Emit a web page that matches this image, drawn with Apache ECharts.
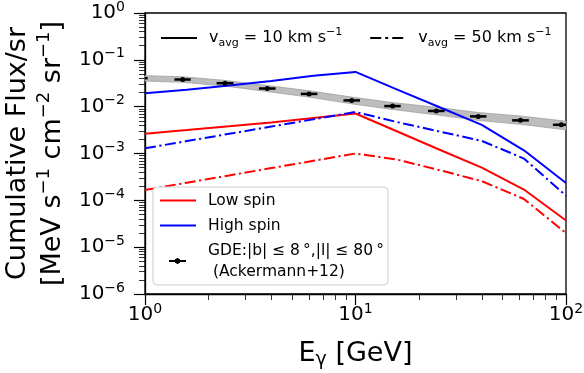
<!DOCTYPE html>
<html>
<head>
<meta charset="utf-8">
<script src="https://cdn.jsdelivr.net/npm/echarts@6/dist/echarts.min.js"></script>
<style>
  html, body { margin: 0; padding: 0; background: #fff; }
  #chart { width: 584px; height: 373px; }
</style>
</head>
<body>
<div id="chart"></div>
<script>
// model curves (cumulative flux per sr), energy in GeV
const modelX = [1, 1.58, 2.51, 3.98, 6.31, 10, 15.8, 25.1, 39.8, 63.1, 100]
const highSpin10 = [0.0194, 0.0229, 0.0282, 0.0355, 0.0457, 0.0553, 0.0232, 0.0097, 0.0041, 0.00117, 0.000234]
const highSpin50 = [0.00129, 0.00184, 0.00263, 0.00376, 0.00537, 0.0077, 0.00468, 0.00295, 0.00186, 0.00078, 0.000126]
const lowSpin10 = [0.00265, 0.00316, 0.0038, 0.00457, 0.00575, 0.00716, 0.00295, 0.0012, 0.0005, 0.00017, 0.000037]
const lowSpin50 = [0.000166, 0.000238, 0.00034, 0.000488, 0.000698, 0.001, 0.00074, 0.00044, 0.000257, 0.000107, 0.00002]

// GDE data (Ackermann+12)
const gdeX = [0.944, 1.51, 2.40, 3.81, 6.02, 9.6, 15.0, 24.2, 38.3, 60.8, 95]
const gdeY = [0.0405, 0.038, 0.0317, 0.0244, 0.0187, 0.0136, 0.0103, 0.0081, 0.0062, 0.0051, 0.0041]
const gdeXLo = [0.86, 1.38, 2.19, 3.48, 5.50, 8.77, 13.7, 22.1, 35.0, 55.5, 86.7]
const gdeXHi = [1.03, 1.65, 2.63, 4.17, 6.59, 10.5, 16.4, 26.5, 41.9, 66.6, 104]
const gdeYLo = [0.0381, 0.0357, 0.0298, 0.0229, 0.0176, 0.0128, 0.0097, 0.0076, 0.0058, 0.0048, 0.00385]
const gdeYHi = [0.0429, 0.0403, 0.0336, 0.0259, 0.0198, 0.0144, 0.0109, 0.0086, 0.0066, 0.0054, 0.00435]

// gray uncertainty band
const bandX = [1, 1.51, 2.40, 3.81, 6.02, 9.6, 15.0, 24.2, 38.3, 60.8, 100]
const bandLo = [0.0352, 0.0332, 0.0276, 0.021, 0.016, 0.0115, 0.0087, 0.0067, 0.0051, 0.0042, 0.0032]
const bandHi = [0.046, 0.0435, 0.0364, 0.0283, 0.0218, 0.016, 0.0122, 0.0097, 0.0075, 0.0063, 0.0049]

const xMinor = []
for (let d = 1; d <= 10; d *= 10) for (let k = 2; k <= 9; k++) xMinor.push(k * d)
const yMinor = []
for (let e = -6; e < 0; e++) for (let k = 2; k <= 9; k++) yMinor.push(+(k * Math.pow(10, e)).toPrecision(3))

const FONT = 'DejaVu Sans'
const pow10Label = v => {
  const e = Math.round(Math.log10(v))
  return '{b|10}{s|' + (e < 0 ? '\u2212' + (-e) : e) + '}'
}
const tickRich = {
  b: { fontSize: 20, fontFamily: FONT, color: '#000', lineHeight: 26 },
  s: { fontSize: 14, fontFamily: FONT, color: '#000', verticalAlign: 'top', lineHeight: 14 }
}
const dashDot = [11, 3.5, 2.2, 3.5]
const pairs = ys => modelX.map((x, i) => [x, ys[i]])

const chart = echarts.init(document.getElementById('chart'), null, { renderer: 'canvas' })

const option = {
  animation: false,
  backgroundColor: '#fff',
  grid: {
    left: 145, right: 18, top: 13, bottom: 79, containLabel: false, outerBoundsMode: 'none',
    show: true, borderColor: '#000', borderWidth: 1.3
  },
  xAxis: [{
    type: 'log', logBase: 10, min: 1, max: 100,
    axisLine: { lineStyle: { color: '#000', width: 1.3 } },
    axisTick: { length: 11, lineStyle: { color: '#000', width: 1.2 } },
    axisLabel: { margin: 8, formatter: pow10Label, rich: tickRich },
    splitLine: { show: false },
    name: '{e|E}{g|\u03b3}{e| [GeV]}',
    nameLocation: 'middle', nameGap: 44,
    nameTextStyle: {
      rich: {
        e: { fontSize: 27, fontFamily: FONT, color: '#000', lineHeight: 32 },
        g: { fontSize: 19, fontFamily: FONT, color: '#000', verticalAlign: 'bottom', lineHeight: 22 }
      }
    }
  }, {
    type: 'log', logBase: 10, min: 1, max: 100, position: 'bottom',
    axisLine: { show: false }, axisLabel: { show: false }, splitLine: { show: false },
    axisTick: { customValues: xMinor, length: 6, lineStyle: { color: '#000', width: 0.8 } }
  }],
  yAxis: [{
    type: 'log', logBase: 10, min: 1e-6, max: 1, interval: 1,
    axisLine: { show: true, lineStyle: { color: '#000', width: 1.3 } },
    axisTick: { show: true, length: 11, lineStyle: { color: '#000', width: 1.2 } },
    axisLabel: { margin: 20, formatter: pow10Label, rich: tickRich },
    splitLine: { show: false },
    name: '{t|Cumulative Flux/sr}\n{t|[MeV s}{s|\u22121}{t| cm}{s|\u22122}{t| sr}{s|\u22121}{t|]}',
    nameLocation: 'middle', nameRotate: 90, nameGap: 75,
    nameTextStyle: {
      align: 'center',
      rich: {
        t: { fontSize: 27, fontFamily: FONT, color: '#000', lineHeight: 35 },
        s: { fontSize: 18, fontFamily: FONT, color: '#000', verticalAlign: 'top', lineHeight: 22 }
      }
    }
  }, {
    type: 'log', logBase: 10, min: 1e-6, max: 1, position: 'left',
    axisLine: { show: false }, axisLabel: { show: false }, splitLine: { show: false },
    axisTick: { show: true, customValues: yMinor, length: 6, lineStyle: { color: '#000', width: 0.8 } }
  }],
  legend: [{
    data: ['v10', 'v50'],
    left: 155, top: 22, itemWidth: 36, itemHeight: 14, itemGap: 27,
    itemStyle: { opacity: 0 },
    formatter: name => '{g|}{t|v}{sub|avg}{t| = ' + (name === 'v10' ? '10' : '50') + ' km s}{sup|\u22121}',
    textStyle: {
      lineHeight: 22,
      rich: {
        g: { width: 7 },
        t: { fontSize: 16, fontFamily: FONT, color: '#000', lineHeight: 22 },
        sub: { fontSize: 11, fontFamily: FONT, color: '#000', verticalAlign: 'bottom', lineHeight: 14 },
        sup: { fontSize: 11, fontFamily: FONT, color: '#000', verticalAlign: 'top', lineHeight: 14 }
      }
    }
  }, {
    data: ['Low spin', 'High spin', {
      name: 'GDE',
      icon: 'path://M0,0h0.2v0.2h-0.2z M35.8,13.8h0.2v0.2h-0.2z M9,6h17v2h-17z M16.5,4h2v6h-2z M15,5h5v4h-5z',
      itemStyle: { opacity: 1, color: '#000' }
    }],
    orient: 'vertical', left: 153, top: 187,
    itemWidth: 36, itemHeight: 14, itemGap: 4,
    itemStyle: { opacity: 0 },
    padding: [3, 4, 3, 6],
    backgroundColor: '#fff', borderColor: '#cccccc', borderWidth: 1, borderRadius: 4,
    formatter: name => name === 'GDE'
      ? '{g|}{t|GDE:|b| \u2264 8\u2009\u00b0,|l| \u2264 80\u2009\u00b0}\n{g|}{t| (Ackermann+12)}'
      : '{g|}{t|' + name + '}',
    textStyle: {
      lineHeight: 21,
      rich: {
        g: { width: 7 },
        t: { fontSize: 15.5, fontFamily: FONT, color: '#000', lineHeight: 21 }
      }
    }
  }],
  series: [{
    type: 'custom', name: 'band', z: 1, silent: true,
    data: [[bandX[0], bandLo[0]]],
    encode: { x: 0, y: 1 },
    renderItem: (params, api) => {
      const pts = bandX.map((x, i) => api.coord([x, bandHi[i]]))
      for (let i = bandX.length - 1; i >= 0; i--) pts.push(api.coord([bandX[i], bandLo[i]]))
      return { type: 'polygon', shape: { points: pts }, style: { fill: '#bdbdbd', stroke: '#a0a0a0', lineWidth: 0.8 } }
    }
  }, {
    type: 'line', name: 'Low spin', data: pairs(lowSpin10), symbol: 'none', z: 3,
    itemStyle: { color: '#ff0000' }, lineStyle: { color: '#ff0000', width: 2 }
  }, {
    type: 'line', name: 'High spin', data: pairs(highSpin10), symbol: 'none', z: 3,
    itemStyle: { color: '#0000ff' }, lineStyle: { color: '#0000ff', width: 2 }
  }, {
    type: 'line', name: 'Low spin 50', data: pairs(lowSpin50), symbol: 'none', z: 3,
    itemStyle: { color: '#ff0000' }, lineStyle: { color: '#ff0000', width: 2, type: dashDot }
  }, {
    type: 'line', name: 'High spin 50', data: pairs(highSpin50), symbol: 'none', z: 3,
    itemStyle: { color: '#0000ff' }, lineStyle: { color: '#0000ff', width: 2, type: dashDot }
  }, {
    type: 'line', name: 'v10', data: [], symbol: 'none',
    itemStyle: { color: '#000' }, lineStyle: { color: '#000', width: 2.5 }
  }, {
    type: 'line', name: 'v50', data: [], symbol: 'none',
    itemStyle: { color: '#000' }, lineStyle: { color: '#000', width: 2.5, type: [11, 4, 3, 4] }
  }, {
    type: 'custom', name: 'GDE', z: 4, clip: true,
    itemStyle: { color: '#000' },
    data: gdeX.map((x, i) => [x, gdeY[i], gdeXLo[i], gdeXHi[i], gdeYLo[i], gdeYHi[i]]),
    encode: { x: 0, y: 1 },
    renderItem: (params, api) => {
      const c = api.coord([api.value(0), api.value(1)])
      const l = api.coord([api.value(2), api.value(1)])
      const r = api.coord([api.value(3), api.value(1)])
      const lo = api.coord([api.value(0), api.value(4)])
      const hi = api.coord([api.value(0), api.value(5)])
      return {
        type: 'group',
        children: [
          { type: 'line', shape: { x1: l[0], y1: l[1], x2: r[0], y2: r[1] }, style: { stroke: '#000', lineWidth: 2.5 } },
          { type: 'line', shape: { x1: c[0], y1: lo[1], x2: c[0], y2: hi[1] }, style: { stroke: '#000', lineWidth: 1.5 } },
          { type: 'circle', shape: { cx: c[0], cy: c[1], r: 2.5 }, style: { fill: '#000' } }
        ]
      }
    }
  }]
}

chart.setOption(option)
window.addEventListener('resize', () => chart.resize())
</script>
</body>
</html>
